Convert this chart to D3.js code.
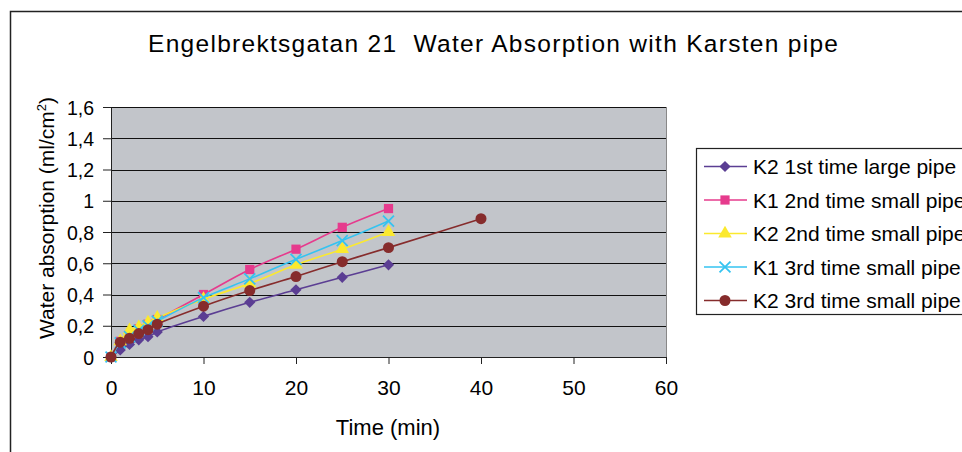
<!DOCTYPE html>
<html>
<head>
<meta charset="utf-8">
<script src="https://cdn.jsdelivr.net/npm/d3@7"></script>
<style>
  body { margin: 0; background: #fff; }
  svg { display: block; font-family: "Liberation Sans", Arial, sans-serif; }
</style>
</head>
<body>
<div id="chart"></div>
<script>
// time points (min) shared by the measured series
const times = [0, 1, 2, 3, 4, 5, 10, 15, 20, 25, 30];
const timesLong = [0, 1, 2, 3, 4, 5, 10, 15, 20, 25, 30, 40];

const seriesNames = [
  "K2 1st time large pipe",
  "K1 2nd time small pipe",
  "K2 2nd time small pipe",
  "K1 3rd time small pipe",
  "K2 3rd time small pipe",
];

const k2First = [0, 0.045, 0.08, 0.11, 0.13, 0.16, 0.26, 0.35, 0.43, 0.51, 0.59];
const k1Second = [0, 0.1, 0.14, 0.18, 0.21, 0.24, 0.4, 0.56, 0.69, 0.83, 0.95];
const k2Second = [0, 0.1, 0.17, 0.19, 0.22, 0.25, 0.37, 0.47, 0.59, 0.69, 0.8];
const k1Third = [0, 0.09, 0.13, 0.17, 0.2, 0.23, 0.38, 0.5, 0.625, 0.745, 0.87];
const k2Third = [0, 0.095, 0.12, 0.15, 0.175, 0.21, 0.325, 0.425, 0.515, 0.61, 0.7, 0.885];

const xTicks = [0, 10, 20, 30, 40, 50, 60];
const yTicks = [0, 0.2, 0.4, 0.6, 0.8, 1, 1.2, 1.4, 1.6];

const colors = ["#5b3e93", "#e63b8d", "#fbe92e", "#35c3f0", "#862c2c"];
const symbols = ["diamond", "square", "triangle", "cross", "circle"];

const data = [
  { name: seriesNames[0], x: times, y: k2First },
  { name: seriesNames[1], x: times, y: k1Second },
  { name: seriesNames[2], x: times, y: k2Second },
  { name: seriesNames[3], x: times, y: k1Third },
  { name: seriesNames[4], x: timesLong, y: k2Third },
];

const width = 962, height = 452;
const plot = { left: 111, right: 666, top: 107, bottom: 357 };
const font = "Liberation Sans, Arial, sans-serif";

const svg = d3.select("#chart").append("svg")
  .attr("width", width)
  .attr("height", height);

// outer chart frame (runs off the right and bottom edge)
svg.append("rect")
  .attr("x", 10.5).attr("y", 11.5)
  .attr("width", 1000).attr("height", 500)
  .attr("fill", "none").attr("stroke", "#222").attr("stroke-width", 1.5);

// title is wider than plain Arial in the original, so stretch the spacing a bit
svg.append("text")
  .attr("x", 148).attr("y", 52)
  .attr("xml:space", "preserve")
  .attr("textLength", 690)
  .attr("lengthAdjust", "spacing")
  .style("font-size", "24.5px")
  .text("Engelbrektsgatan 21  Water Absorption with Karsten pipe");

const x = d3.scaleLinear().domain([0, 60]).range([plot.left, plot.right]);
const y = d3.scaleLinear().domain([0, 1.6]).range([plot.bottom, plot.top]);

// plot background
svg.append("rect")
  .attr("x", plot.left).attr("y", plot.top)
  .attr("width", plot.right - plot.left).attr("height", plot.bottom - plot.top)
  .attr("fill", "#c2c5ca");

// gridlines
svg.append("g")
  .selectAll("line")
  .data(yTicks.slice(1))
  .join("line")
  .attr("x1", plot.left).attr("x2", plot.right)
  .attr("y1", (d) => Math.round(y(d)) + 0.5).attr("y2", (d) => Math.round(y(d)) + 0.5)
  .attr("stroke", "#111").attr("stroke-width", 1.2);

// right edge of plot area
svg.append("line")
  .attr("x1", plot.right + 0.5).attr("x2", plot.right + 0.5)
  .attr("y1", plot.top).attr("y2", plot.bottom)
  .attr("stroke", "#888");

// y axis
svg.append("g")
  .attr("transform", `translate(${plot.left},0)`)
  .call(d3.axisLeft(y).tickValues(yTicks).tickSize(8).tickSizeOuter(0)
    .tickFormat((d) => String(d).replace(".", ",")))
  .call((g) => g.selectAll("line, path").attr("stroke", "#222"))
  .call((g) => g.selectAll(".tick text")
    .attr("x", -17).attr("dy", "0.36em")
    .style("font-size", "19.5px").style("font-family", font)
    .attr("fill", "#000"));

// x axis
svg.append("g")
  .attr("transform", `translate(0,${plot.bottom})`)
  .call(d3.axisBottom(x).tickValues(xTicks).tickSize(7).tickSizeOuter(0))
  .call((g) => g.selectAll("line, path").attr("stroke", "#222"))
  .call((g) => g.selectAll(".tick text")
    .attr("y", 38).attr("dy", 0)
    .style("font-size", "21px").style("font-family", font)
    .attr("fill", "#000"));

// axis titles
svg.append("text")
  .attr("transform", "translate(54,218) rotate(-90)")
  .attr("text-anchor", "middle")
  .style("font-size", "21px")
  .html("Water absorption (ml/cm<tspan dy='-8' style='font-size:13px'>2</tspan><tspan dy='8'>)</tspan>");

svg.append("text")
  .attr("x", 388).attr("y", 435)
  .attr("text-anchor", "middle")
  .style("font-size", "22px")
  .text("Time (min)");

const line = d3.line()
  .x((d) => x(d[0]))
  .y((d) => y(d[1]))
  .curve(d3.curveCatmullRom);

const symbolFor = (i) => {
  const s = symbols[i];
  if (s === "diamond") return d3.symbol(d3.symbolDiamond2, 80)();
  if (s === "square") return d3.symbol(d3.symbolSquare, 85)();
  if (s === "triangle") return d3.symbol(d3.symbolTriangle, 80)();
  if (s === "cross") return d3.symbol(d3.symbolTimes, 80)();
  return d3.symbol(d3.symbolCircle, 95)();
};

data.forEach((s, i) => {
  const pts = d3.zip(s.x, s.y);
  const g = svg.append("g");
  g.append("path")
    .attr("fill", "none")
    .attr("stroke", colors[i])
    .attr("stroke-width", 1.6)
    .attr("d", line(pts));
  g.selectAll("path.m")
    .data(pts)
    .join("path")
    .attr("class", "m")
    .attr("transform", (d) => `translate(${x(d[0])},${y(d[1])})`)
    .attr("d", symbolFor(i))
    .attr("fill", symbols[i] === "cross" ? "none" : colors[i])
    .attr("stroke", colors[i])
    .attr("stroke-width", symbols[i] === "cross" ? 1.8 : 0);
});

// legend (cut off at the right edge, as in the original)
const legend = svg.append("g");
legend.append("rect")
  .attr("x", 696.5).attr("y", 148.5)
  .attr("width", 300).attr("height", 166)
  .attr("fill", "#fff").attr("stroke", "#222").attr("stroke-width", 1.2);

const keys = legend.selectAll("g.key")
  .data(data)
  .join("g")
  .attr("class", "key")
  .attr("transform", (d, i) => `translate(0,${166.5 + 33.5 * i})`);

keys.append("line")
  .attr("x1", 704).attr("x2", 747)
  .attr("stroke", (d, i) => colors[i]).attr("stroke-width", 1.6);

keys.append("path")
  .attr("transform", "translate(725,0)")
  .attr("d", (d, i) => symbolFor(i))
  .attr("fill", (d, i) => (symbols[i] === "cross" ? "none" : colors[i]))
  .attr("stroke", (d, i) => colors[i])
  .attr("stroke-width", (d, i) => (symbols[i] === "cross" ? 1.8 : 0));

keys.append("text")
  .attr("x", 753)
  .attr("dy", "0.36em")
  .style("font-size", "21px")
  .text((d) => d.name);
</script>
</body>
</html>
